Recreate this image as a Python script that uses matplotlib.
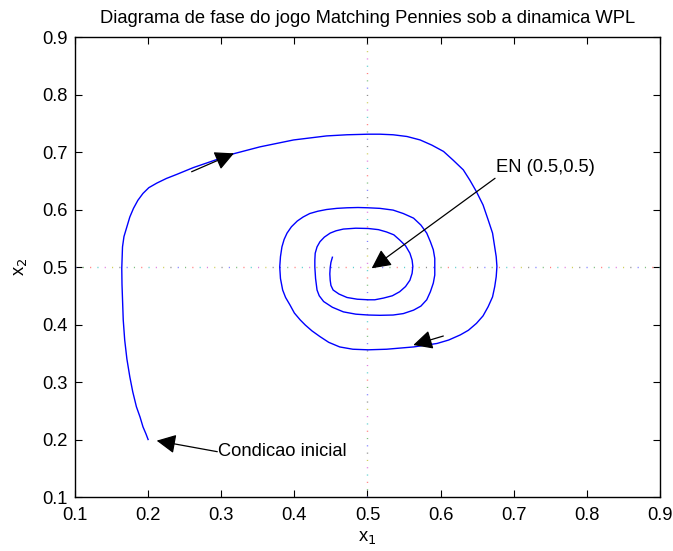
import matplotlib
matplotlib.use("Agg")
import matplotlib.pyplot as plt

plt.rcParams['font.family'] = ['Liberation Sans', 'DejaVu Sans']

# trajectory (x1, x2), from the initial condition inwards
x1 = [0.200, 0.197, 0.193, 0.189, 0.184, 0.179, 0.175, 0.171, 0.168, 0.166,
      0.165, 0.1643, 0.164, 0.1645, 0.165, 0.167, 0.171, 0.175, 0.180, 0.186,
      0.193, 0.201, 0.212, 0.225, 0.239, 0.262, 0.285, 0.317, 0.353, 0.399,
      0.444, 0.472, 0.501, 0.517, 0.535, 0.554, 0.572, 0.588, 0.604, 0.617,
      0.631, 0.640, 0.649, 0.658, 0.665, 0.671, 0.674, 0.676, 0.677, 0.676,
      0.674, 0.671, 0.665, 0.658, 0.649, 0.638, 0.627, 0.611, 0.595, 0.579,
      0.563, 0.544, 0.526, 0.501, 0.480, 0.462, 0.447, 0.435, 0.424, 0.415,
      0.408, 0.400, 0.394, 0.388, 0.384, 0.381, 0.380, 0.381, 0.383, 0.386,
      0.390, 0.396, 0.404, 0.412, 0.421, 0.432, 0.444, 0.458, 0.472, 0.487,
      0.501, 0.517, 0.535, 0.549, 0.563, 0.573, 0.581, 0.586, 0.590, 0.592,
      0.592, 0.592, 0.590, 0.586, 0.581, 0.573, 0.563, 0.549, 0.535, 0.517,
      0.501, 0.484, 0.467, 0.452, 0.440, 0.434, 0.431, 0.429, 0.428, 0.428,
      0.4285, 0.431, 0.435, 0.441, 0.449, 0.457, 0.467, 0.484, 0.501, 0.515,
      0.526, 0.536, 0.544, 0.552, 0.558, 0.561, 0.562, 0.561, 0.558, 0.552,
      0.544, 0.534, 0.522, 0.510, 0.501, 0.486, 0.472, 0.461, 0.453, 0.450,
      0.449, 0.4485, 0.449, 0.450, 0.452]
x2 = [0.200, 0.210, 0.222, 0.239, 0.257, 0.283, 0.309, 0.340, 0.373, 0.408,
      0.443, 0.470, 0.498, 0.518, 0.535, 0.553, 0.570, 0.587, 0.602, 0.616,
      0.628, 0.638, 0.646, 0.654, 0.661, 0.673, 0.683, 0.697, 0.709, 0.721,
      0.728, 0.730, 0.731, 0.731, 0.730, 0.727, 0.721, 0.712, 0.701, 0.686,
      0.669, 0.651, 0.631, 0.608, 0.582, 0.559, 0.535, 0.518, 0.501, 0.483,
      0.466, 0.448, 0.431, 0.415, 0.402, 0.390, 0.382, 0.373, 0.367, 0.364,
      0.361, 0.359, 0.357, 0.356, 0.357, 0.361, 0.369, 0.379, 0.389, 0.399,
      0.408, 0.420, 0.434, 0.447, 0.460, 0.480, 0.500, 0.518, 0.535, 0.548,
      0.559, 0.570, 0.580, 0.587, 0.593, 0.597, 0.600, 0.602, 0.603, 0.6035,
      0.603, 0.602, 0.599, 0.593, 0.585, 0.573, 0.559, 0.544, 0.530, 0.515,
      0.501, 0.486, 0.472, 0.457, 0.443, 0.432, 0.425, 0.419, 0.4165, 0.416,
      0.4165, 0.418, 0.422, 0.430, 0.440, 0.450, 0.460, 0.480, 0.500, 0.512,
      0.524, 0.535, 0.544, 0.552, 0.559, 0.563, 0.566, 0.5675, 0.567, 0.565,
      0.561, 0.556, 0.547, 0.537, 0.524, 0.512, 0.501, 0.489, 0.477, 0.466,
      0.457, 0.450, 0.446, 0.443, 0.443, 0.444, 0.447, 0.453, 0.460, 0.468,
      0.477, 0.488, 0.499, 0.508, 0.517]

eq = [0.5, 0.5]
ticks = [0.1, 0.2, 0.3, 0.4, 0.5, 0.6, 0.7, 0.8, 0.9]

# annotation arrows: (tail, tip)
flow_arrows = [((0.2595, 0.6657), (0.3174, 0.6977)),
               ((0.6037, 0.3800), (0.5626, 0.3643))]
label_en = "EN (0.5,0.5)"
label_en_pos = (0.6744, 0.6543)
label_en_tip = (0.5057, 0.4977)
label_ci = "Condicao inicial"
label_ci_pos = (0.2946, 0.1788)
label_ci_tip = (0.2117, 0.1980)

fs = 13.2

fig = plt.figure(figsize=(6.73, 5.51), dpi=100)
ax = fig.add_axes([0.1114, 0.098, 0.8693, 0.8348])

# multi-coloured dotted crosshair through the equilibrium (MATLAB look)
dot_cols = ['#8080ff', '#80c080', '#ff8080', '#60d0d0', '#e080e0', '#d0d060', '#909090']
period = 7.3 * len(dot_cols) * 72 / 100.0
for i, c in enumerate(dot_cols):
    off = -i * 7.3 * 72 / 100.0
    ax.axvline(eq[0], color=c, lw=1.0, linestyle=(off, (0.8, period - 0.8)))
    ax.axhline(eq[1], color=c, lw=1.0, linestyle=(off, (0.8, period - 0.8)))

ax.plot(x1, x2, color='#0000ff', lw=1.0, solid_joinstyle='round')

aprops = dict(arrowstyle='-|>,head_length=0.9,head_width=0.45', color='k',
              lw=0.9, mutation_scale=13, shrinkA=0, shrinkB=0)
for tail, tip in flow_arrows:
    ax.annotate('', xy=tip, xytext=tail, arrowprops=aprops)

ax.annotate('', xy=label_en_tip, xytext=label_en_pos, arrowprops=aprops)
ax.text(label_en_pos[0] + 0.002, label_en_pos[1] + 0.018, label_en,
        fontsize=fs, ha='left', va='center')
ax.annotate('', xy=label_ci_tip, xytext=label_ci_pos, arrowprops=aprops)
ax.text(label_ci_pos[0] + 0.001, label_ci_pos[1], label_ci,
        fontsize=fs, ha='left', va='center')

ax.set_xlim(0.1, 0.9)
ax.set_ylim(0.1, 0.9)
ax.set_xticks(ticks)
ax.set_yticks(ticks)
ax.set_xticklabels([str(t) for t in ticks])
ax.set_yticklabels([str(t) for t in ticks])
ax.tick_params(direction='in', top=True, right=True, length=5, width=0.8,
               labelsize=fs)
ax.tick_params(axis='x', pad=7)
ax.tick_params(axis='y', pad=5)
for s in ax.spines.values():
    s.set_linewidth(1.0)

ax.set_title("Diagrama de fase do jogo Matching Pennies sob a dinamica WPL",
             fontsize=fs, pad=10)
ax.set_xlabel("x$_1$", fontsize=fs, labelpad=4)
ax.set_ylabel("x$_2$", fontsize=fs, labelpad=10)

fig.savefig("out.png", dpi=100)
